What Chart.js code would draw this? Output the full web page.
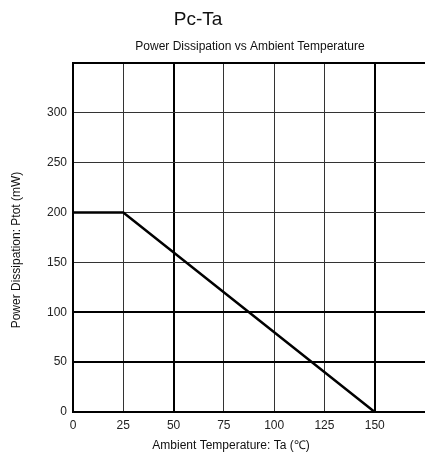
<!DOCTYPE html>
<html>
<head>
<meta charset="utf-8">
<script src="https://cdn.jsdelivr.net/npm/chart.js@4"></script>
<style>
  html, body { margin: 0; padding: 0; background: #fff; }
  #wrap { width: 425px; height: 455px; }
</style>
</head>
<body>
<div id="wrap"><canvas id="myChart" width="425" height="455"></canvas></div>
<script>
// Chart data
const temps = [0, 25, 150];        // Ta (°C)
const power = [200, 200, 0];       // Ptot (mW)
const xTicks = [0, 25, 50, 75, 100, 125, 150];
const yTicks = [0, 50, 100, 150, 200, 250, 300];
const thickX = [0, 50, 150];
const thickY = [0, 50, 100, 350];

const font = 'Liberation Sans, Arial, sans-serif';

// Draws the titles as canvas text
const textPlugin = {
    id: 'texts',
    afterDraw(chart) {
        const ctx = chart.ctx;
        ctx.save();
        ctx.fillStyle = '#111';
        ctx.textAlign = 'center';
        ctx.textBaseline = 'middle';
        ctx.font = '19px ' + font;
        ctx.fillText('Pc-Ta', 198, 20);
        ctx.font = '12px ' + font;
        ctx.fillText('Power Dissipation vs Ambient Temperature', 250, 47);
        ctx.fillText('Ambient Temperature: Ta (\u2103)', 231, 446);
        ctx.translate(17, 250);
        ctx.rotate(-Math.PI / 2);
        ctx.fillText('Power Dissipation: Ptot (mW)', 0, 0);
        ctx.restore();
    }
};

const ctx = document.getElementById('myChart').getContext('2d');
new Chart(ctx, {
    type: 'line',
    data: {
        datasets: [{
            data: temps.map((t, i) => ({ x: t, y: power[i] })),
            borderColor: '#000',
            borderWidth: 2.5,
            pointRadius: 0,
            tension: 0
        }]
    },
    options: {
        responsive: false,
        animation: false,
        layout: { padding: { top: 63, left: 0, right: -4, bottom: 0 } },
        plugins: {
            legend: { display: false },
            tooltip: { enabled: false }
        },
        scales: {
            x: {
                type: 'linear',
                min: 0,
                max: 175,
                afterFit(scale) {
                    scale.height = 43;
                    scale.paddingRight = 0;
                    scale.paddingLeft = 0;
                },
                ticks: {
                    stepSize: 25,
                    padding: 6,
                    color: '#222',
                    font: { family: font, size: 12 },
                    maxRotation: 0,
                    callback: v => xTicks.includes(v) ? String(v) : ''
                },
                grid: {
                    drawTicks: false,
                    color: ctx => thickX.includes(ctx.tick.value) ? '#000' : '#333',
                    lineWidth: ctx => thickX.includes(ctx.tick.value) ? 2 : 1
                },
                border: { color: '#000', width: 2 }
            },
            y: {
                min: 0,
                max: 350,
                afterFit(scale) { scale.width = 73; },
                ticks: {
                    stepSize: 50,
                    padding: 6,
                    color: '#222',
                    font: { family: font, size: 12 },
                    callback: v => yTicks.includes(v) ? String(v) : ''
                },
                grid: {
                    drawTicks: false,
                    color: ctx => thickY.includes(ctx.tick.value) ? '#000' : '#333',
                    lineWidth: ctx => thickY.includes(ctx.tick.value) ? 2 : 1
                },
                border: { color: '#000', width: 2 }
            }
        }
    },
    plugins: [textPlugin]
});
</script>
</body>
</html>
